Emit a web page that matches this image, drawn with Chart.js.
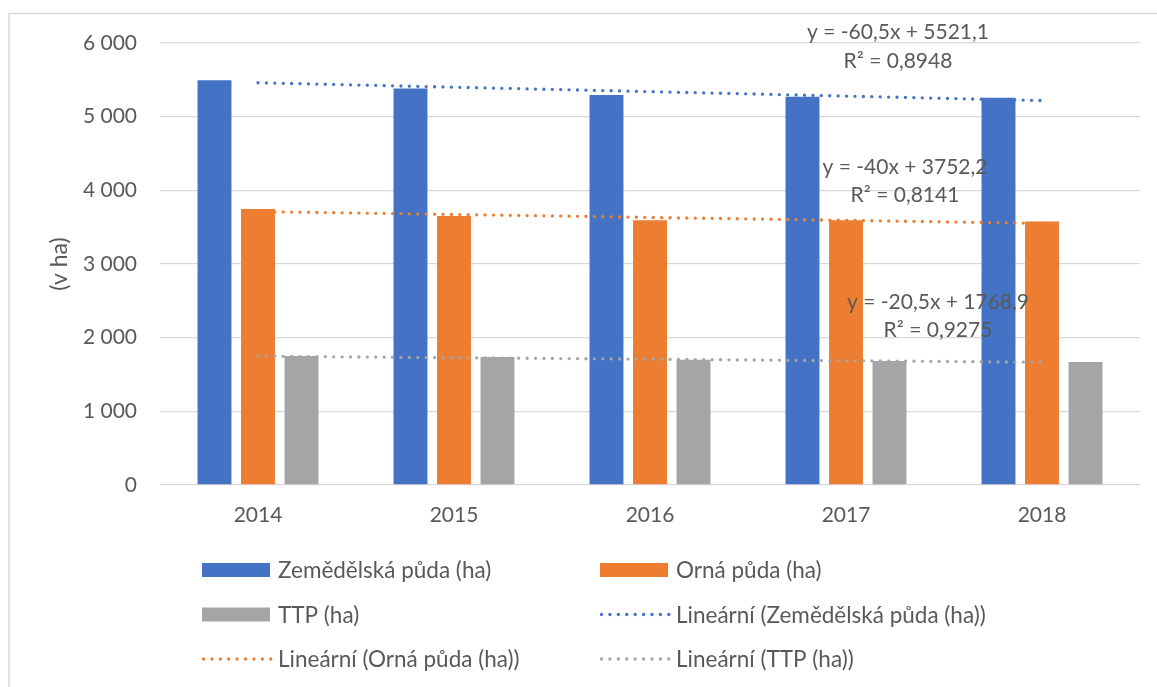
<!DOCTYPE html>
<html>
<head>
<meta charset="utf-8">
<script src="https://cdn.jsdelivr.net/npm/chart.js@4"></script>
<style>
  html, body { margin: 0; padding: 0; background: #ffffff; }
  #wrap { width: 1157px; height: 687px; position: relative; }
</style>
</head>
<body>
<div id="wrap"><canvas id="c" width="1157" height="687"></canvas></div>
<script>
// ---- data ----
const years = ['2014', '2015', '2016', '2017', '2018'];
const zemedelska = [5495, 5383, 5293, 5270, 5257];
const orna = [3745, 3650, 3595, 3595, 3576];
const ttp = [1750, 1736, 1700, 1683, 1668];
// linear trend values (from the equations shown in the chart)
const trendZemedelska = [5460.6, 5400.1, 5339.6, 5279.1, 5218.6];
const trendOrna = [3712.2, 3672.2, 3632.2, 3592.2, 3552.2];
const trendTtp = [1748.4, 1727.9, 1707.4, 1686.9, 1666.4];
const seriesLabels = ['Zemědělská půda (ha)', 'Orná půda (ha)', 'TTP (ha)'];
const trendLabels = ['Lineární (Zemědělská půda (ha))', 'Lineární (Orná půda (ha))', 'Lineární (TTP (ha))'];
const equations = [
  ['y = -60,5x + 5521,1', 'R² = 0,8948'],
  ['y = -40x + 3752,2', 'R² = 0,8141'],
  ['y = -20,5x + 1768,9', 'R² = 0,9275']
];
const yTicks = [0, 1000, 2000, 3000, 4000, 5000, 6000];

// ---- styles ----
const FONT = "Lato, 'Open Sans', sans-serif";
const TXT = '#595959';
const colors = ['#4472C4', '#ED7D31', '#A5A5A5'];
const DOT = [0.01, 8.4];

const fmt = v => String(v).replace(/\B(?=(\d{3})+(?!\d))/g, ' ');

const bg = {
  id: 'bg',
  beforeDraw(chart) {
    const ctx = chart.ctx;
    ctx.save();
    ctx.fillStyle = '#fff';
    ctx.fillRect(0, 0, chart.width, chart.height);
    ctx.strokeStyle = '#d9d9d9';
    ctx.lineWidth = 1.5;
    ctx.strokeRect(9, 13.5, chart.width + 20, chart.height + 20);
    ctx.restore();
  }
};

const eqPos = [[898, 32, 61], [905, 167, 195], [938, 302, 330]];
const eqPlugin = {
  id: 'eq',
  afterDatasetsDraw(chart) {
    const ctx = chart.ctx;
    ctx.save();
    ctx.fillStyle = TXT;
    ctx.font = '21px ' + FONT;
    ctx.textAlign = 'center';
    ctx.textBaseline = 'middle';
    equations.forEach((e, i) => {
      ctx.fillText(e[0], eqPos[i][0], eqPos[i][1]);
      ctx.fillText(e[1], eqPos[i][0], eqPos[i][2]);
    });
    ctx.restore();
  }
};

const legendPlugin = {
  id: 'customLegend',
  afterDraw(chart) {
    const ctx = chart.ctx;
    const cols = [202, 600];
    const rows = [570, 614.5, 659];
    ctx.save();
    ctx.font = '22.5px ' + FONT;
    ctx.textBaseline = 'middle';
    ctx.textAlign = 'left';
    chart.data.datasets.forEach((ds, i) => {
      const x = cols[i % 2];
      const y = rows[Math.floor(i / 2)];
      if (ds.type === 'line') {
        ctx.save();
        ctx.strokeStyle = ds.borderColor;
        ctx.lineWidth = 3.3;
        ctx.lineCap = 'round';
        ctx.setLineDash(DOT);
        ctx.beginPath();
        ctx.moveTo(x + 1.5, y);
        ctx.lineTo(x + 69, y);
        ctx.stroke();
        ctx.restore();
      } else {
        ctx.fillStyle = ds.backgroundColor;
        ctx.fillRect(x, y - 7, 68, 14);
      }
      ctx.fillStyle = TXT;
      ctx.fillText(ds.label, x + 76, y + 1);
    });
    ctx.restore();
  }
};

const barDs = (label, data, color) => ({
  type: 'bar', label, data, backgroundColor: color, borderWidth: 0,
  categoryPercentage: 0.666, barPercentage: 0.78, order: 2
});
const lineDs = (label, data, color) => ({
  type: 'line', label, data, borderColor: color, backgroundColor: color,
  borderWidth: 3.3, borderDash: DOT, borderCapStyle: 'round',
  pointRadius: 0, fill: false, tension: 0, order: 1
});

new Chart(document.getElementById('c'), {
  data: {
    labels: years,
    datasets: [
      barDs(seriesLabels[0], zemedelska, colors[0]),
      barDs(seriesLabels[1], orna, colors[1]),
      barDs(seriesLabels[2], ttp, colors[2]),
      lineDs(trendLabels[0], trendZemedelska, colors[0]),
      lineDs(trendLabels[1], trendOrna, colors[1]),
      lineDs(trendLabels[2], trendTtp, colors[2])
    ]
  },
  options: {
    responsive: false,
    animation: false,
    devicePixelRatio: 1,
    layout: { padding: { left: 0, right: 17, top: 43, bottom: 162 } },
    plugins: {
      legend: { display: false },
      tooltip: { enabled: false }
    },
    scales: {
      x: {
        grid: { display: false, drawTicks: false },
        border: { display: false },
        ticks: { color: TXT, font: { family: FONT, size: 21 }, padding: 18 },
        afterFit(s) { s.height = 40; }
      },
      y: {
        min: 0, max: 6000,
        afterBuildTicks(s) { s.ticks = yTicks.map(v => ({ value: v })); },
        grid: { color: '#d9d9d9', lineWidth: 1.3, drawTicks: false },
        border: { display: false },
        ticks: { color: TXT, font: { family: FONT, size: 21 }, padding: 23, callback: v => fmt(v) },
        title: { display: true, text: '(v ha)', color: TXT, font: { family: FONT, size: 23 }, padding: { top: 46 } },
        afterFit(s) { s.width = 160; }
      }
    }
  },
  plugins: [bg, eqPlugin, legendPlugin]
});
</script>
</body>
</html>
